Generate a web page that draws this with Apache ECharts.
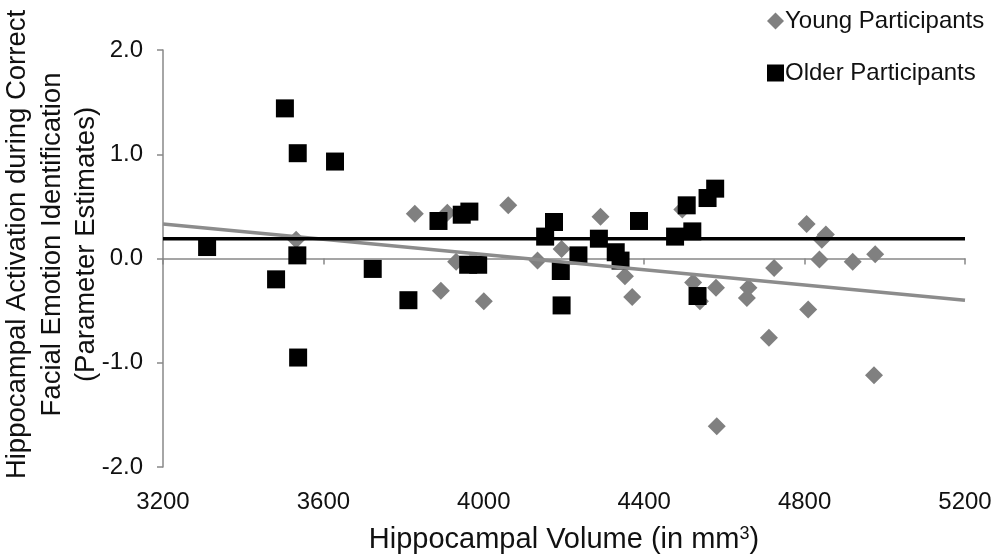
<!DOCTYPE html>
<html>

<head>
    <meta charset="utf-8">
    <title>ECharts</title>
    <script type="text/javascript" src="https://cdn.jsdelivr.net/npm/echarts@6/dist/echarts.min.js"></script>
</head>

<body style="margin:0;">
    <div id="main" style="width: 1000px;height:557px;"></div>
    <script type="text/javascript">
        // young participants: volume (mm3) and activation
        var youngX = [3532, 3828, 3909, 3931, 3893, 4000, 4061, 4134, 4194, 4291, 4352, 4370, 4495, 4522, 4539,
            4579, 4581, 4660, 4656, 4724, 4711, 4805, 4853, 4843, 4837, 4809, 4920, 4976, 4973];
        var youngY = [0.18, 0.43, 0.44, -0.03, -0.31, -0.41, 0.51, -0.02, 0.09, 0.40, -0.17, -0.37, 0.47, -0.23, -0.41,
            -0.28, -1.61, -0.28, -0.38, -0.09, -0.76, 0.33, 0.23, 0.18, -0.01, -0.49, -0.03, 0.04, -1.12];

        // older participants
        var olderX = [3310, 3482, 3504, 3536, 3535, 3537, 3629, 3723, 3812, 3887, 3945, 3964, 3961, 3986, 4153,
            4175, 4192, 4194, 4236, 4287, 4329, 4341, 4387, 4477, 4506, 4520, 4533, 4558, 4577];
        var olderY = [0.11, -0.20, 1.44, 1.01, 0.03, -0.95, 0.93, -0.10, -0.40, 0.36, 0.42, 0.45, -0.06, -0.06, 0.21,
            0.35, -0.12, -0.45, 0.03, 0.19, 0.06, -0.02, 0.36, 0.21, 0.51, 0.26, -0.36, 0.58, 0.67];

        // linear trend lines, end points
        var trendX = [3200, 5200];
        var youngTrend = [0.33, -0.40];
        var olderTrend = [0.19, 0.19];

        var xTicks = [3200, 3600, 4000, 4400, 4800, 5200];
        var yTicks = [-2.0, -1.0, 0.0, 1.0, 2.0];

        function pairs(xs, ys) {
            return xs.map(function (x, i) { return [x, ys[i]]; });
        }

        var myChart = echarts.init(document.getElementById('main'));
        var font = 'Liberation Sans, Arial, sans-serif';

        var option = {
            animation: false,
            textStyle: { fontFamily: font, color: '#111' },
            grid: { left: 163, right: 35, top: 50, bottom: 90, containLabel: false, outerBoundsMode: 'none' },
            legend: {
                data: ['Young Participants', 'Older Participants'],
                orient: 'vertical',
                left: 762,
                top: 4,
                itemGap: 28,
                itemWidth: 17,
                itemHeight: 17,
                textStyle: { fontFamily: font, fontSize: 24, color: '#111', padding: [0, 0, 0, -4] }
            },
            xAxis: [{
                type: 'value',
                min: xTicks[0],
                max: xTicks[xTicks.length - 1],
                interval: 400,
                position: 'bottom',
                axisLine: { show: false, onZero: false },
                axisTick: { show: false },
                splitLine: { show: false },
                axisLabel: {
                    fontSize: 24, color: '#111', margin: 23, fontFamily: font,
                    formatter: function (v) { return String(v); }
                },
                name: 'Hippocampal Volume (in mm{sup|3})',
                nameLocation: 'middle',
                nameGap: 58,
                nameMoveOverlap: false,
                nameTextStyle: {
                    fontSize: 29, color: '#111', fontFamily: font,
                    rich: { sup: { fontSize: 18, verticalAlign: 'top', padding: [0, 0, 12, 0], fontFamily: font, color: '#111' } }
                }
            }, {
                type: 'value',
                min: xTicks[0],
                max: xTicks[xTicks.length - 1],
                interval: 400,
                position: 'bottom',
                axisLine: { show: true, onZero: true, lineStyle: { color: '#888', width: 1.5 } },
                axisTick: { show: true, inside: false, length: 6, lineStyle: { color: '#888', width: 1.5 } },
                axisLabel: { show: false },
                splitLine: { show: false }
            }],
            yAxis: {
                type: 'value',
                min: yTicks[0],
                max: yTicks[yTicks.length - 1],
                interval: 1,
                axisLine: { show: true, onZero: false, lineStyle: { color: '#888', width: 1.5 } },
                axisTick: { show: true, length: 6, lineStyle: { color: '#888', width: 1.5 } },
                splitLine: { show: false },
                axisLabel: {
                    fontSize: 24, color: '#111', margin: 20, fontFamily: font,
                    formatter: function (v) { return v.toFixed(1); }
                },
                name: 'Hippocampal Activation during Correct\nFacial Emotion Identification\n(Parameter Estimates)',
                nameLocation: 'middle',
                nameRotate: 90,
                nameGap: 59,
                nameMoveOverlap: false,
                nameTextStyle: { fontSize: 27.5, color: '#111', fontFamily: font, lineHeight: 34.5, padding: [0, 0, 0, 28] }
            },
            series: [{
                name: 'Young Participants',
                type: 'scatter',
                symbol: 'diamond',
                symbolSize: 18,
                itemStyle: { color: '#808080', opacity: 1 },
                data: pairs(youngX, youngY),
                z: 2
            }, {
                name: 'Older Participants',
                type: 'scatter',
                symbol: 'rect',
                symbolSize: 18,
                itemStyle: { color: '#000', opacity: 1 },
                data: pairs(olderX, olderY),
                z: 3
            }, {
                name: 'Young trend',
                type: 'line',
                symbol: 'none',
                lineStyle: { color: '#8c8c8c', width: 3.5 },
                data: pairs(trendX, youngTrend),
                z: 4
            }, {
                name: 'Older trend',
                type: 'line',
                symbol: 'none',
                lineStyle: { color: '#000', width: 3.5 },
                data: pairs(trendX, olderTrend),
                z: 5
            }]
        };

        myChart.setOption(option);
    </script>
</body>

</html>
